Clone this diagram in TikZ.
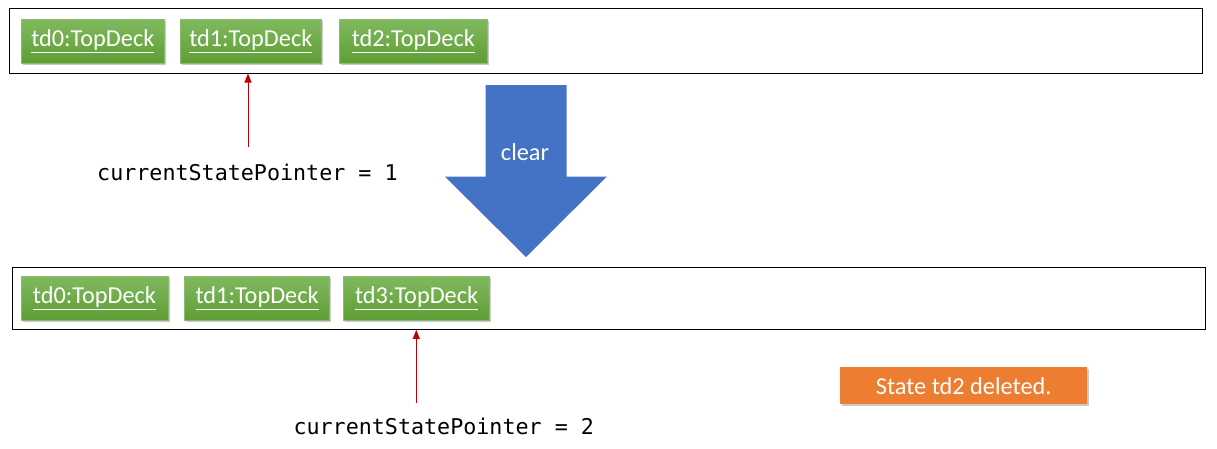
\documentclass[tikz,border=0pt]{standalone}
\usepackage{fontspec}
\setmainfont{Carlito}
\newfontfamily\monofont{DejaVu Sans Mono}
\usetikzlibrary{arrows.meta,shadows,positioning}
\definecolor{gtop}{HTML}{80B95E}
\definecolor{gbot}{HTML}{5E9E35}
\definecolor{ablue}{HTML}{4472C4}
\definecolor{aorange}{HTML}{ED7D31}
\definecolor{pred}{HTML}{C00000}
\tikzset{
  frame/.style={draw=black,line width=1.1pt,fill=white},
  deckbox/.style={rectangle,inner sep=0pt,minimum height=44pt,
    top color=gtop,bottom color=gbot,draw=gbot!70!white,line width=0.6pt,
    text=white,font=\fontsize{24.3pt}{28pt}\selectfont,
    drop shadow={shadow xshift=1.5pt,shadow yshift=-2pt,opacity=0.35,fill=black!60}},
  ptr/.style={draw=pred,line width=1pt,-{Triangle[length=9pt,width=7pt]}},
  ptrtext/.style={font=\monofont\fontsize{21.7pt}{26pt}\selectfont,anchor=west,inner sep=0pt},
  note/.style={rectangle,fill=aorange,text=white,inner sep=0pt,
    font=\fontsize{24.3pt}{28pt}\selectfont,
    drop shadow={shadow xshift=1.5pt,shadow yshift=-2pt,opacity=0.35,fill=black!60}}
}
\newcommand{\ul}[1]{\underline{#1}}
\begin{document}
\begin{tikzpicture}[x=1pt,y=-1pt]
\useasboundingbox (0,0) rectangle (1217,448);
% top frame
\node[frame,rectangle,minimum width=1193pt,minimum height=64.5pt,anchor=north west,inner sep=0pt] (f1) at (9,8.3) {};
\node[deckbox,minimum width=143pt,anchor=north west] (a0) at (21,19) {\ul{td0:TopDeck}};
\node[deckbox,minimum width=141pt,anchor=north west] (a1) at (180,19) {\ul{td1:TopDeck}};
\node[deckbox,minimum width=148pt,anchor=north west] (a2) at (339,19) {\ul{td2:TopDeck}};
\node[ptrtext] (p1) at (97,172) {currentStatePointer = 1};
\coordinate (p1top) at (248,147);
\coordinate (f1bot) at (248,73.5);
\draw[ptr] (p1top) -- (f1bot);
% big arrow
\path[fill=ablue] (485.7,85) -- (566.7,85) -- (566.7,176.7) -- (606.7,176.7) -- (526,257)
  -- (445,176.7) -- (485.7,176.7) -- cycle;
\node[text=white,font=\fontsize{24.3pt}{28pt}\selectfont] (clr) at (525,152) {clear};
% bottom frame
\node[frame,rectangle,minimum width=1193pt,minimum height=62pt,anchor=north west,inner sep=0pt] (f2) at (12.3,267.3) {};
\node[deckbox,minimum width=147pt,anchor=north west] (b0) at (20.7,275.7) {\ul{td0:TopDeck}};
\node[deckbox,minimum width=145pt,anchor=north west] (b1) at (184.3,275.7) {\ul{td1:TopDeck}};
\node[deckbox,minimum width=146pt,anchor=north west] (b3) at (343.3,275.7) {\ul{td3:TopDeck}};
\node[ptrtext] (p2) at (293.3,426.5) {currentStatePointer = 2};
\coordinate (p2top) at (416.3,403.3);
\coordinate (f2bot) at (416.3,329.8);
\draw[ptr] (p2top) -- (f2bot);
% note
\node[note,minimum width=247pt,minimum height=37.5pt,anchor=north west] (n) at (840,366.7) {State td2 deleted.};
\end{tikzpicture}
\end{document}
